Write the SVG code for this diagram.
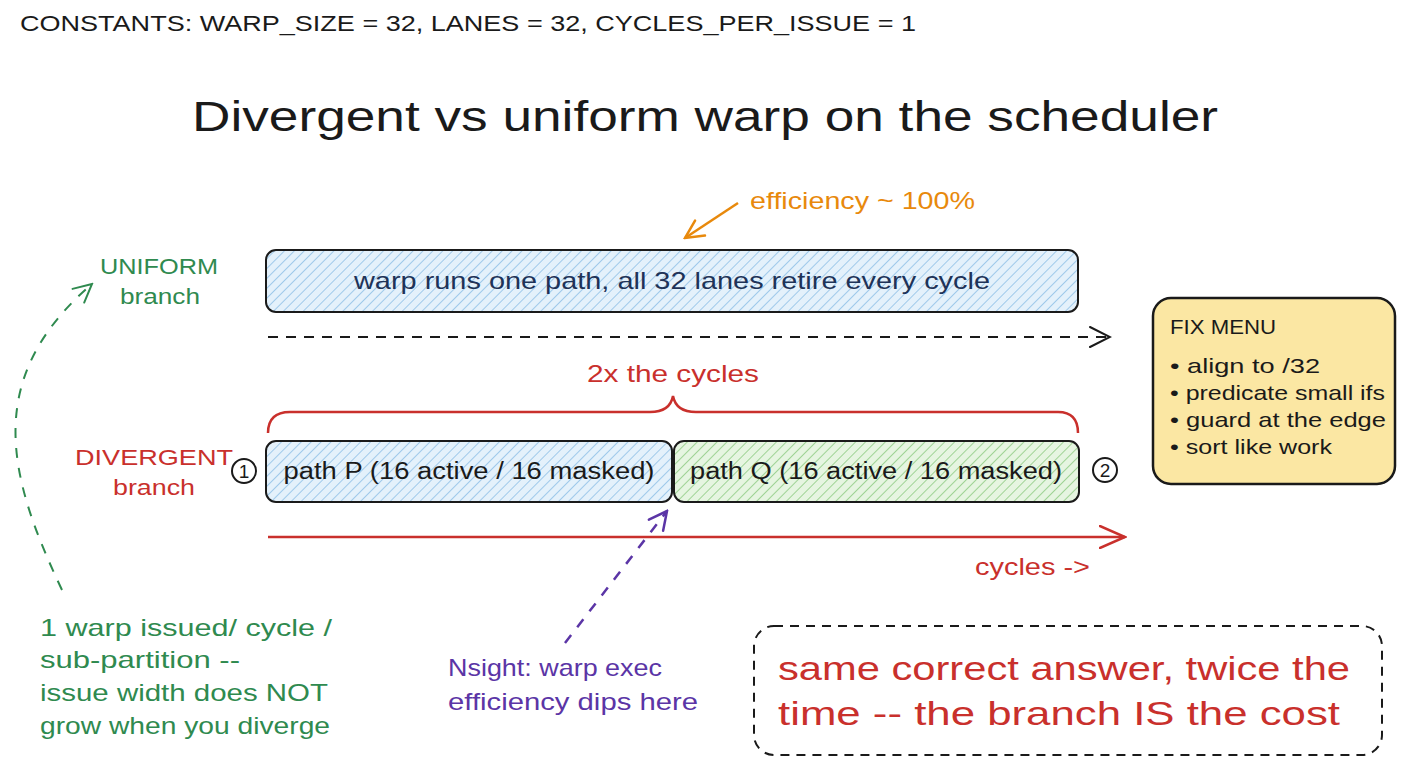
<svg xmlns="http://www.w3.org/2000/svg" width="1408" height="768" viewBox="0 0 1408 768">
<defs>
<pattern id="hatchBlue" patternUnits="userSpaceOnUse" width="7" height="7" patternTransform="rotate(45)">
<rect width="7" height="7" fill="#e4f1fb"/>
<line x1="0" y1="0" x2="0" y2="7" stroke="#9fc9ea" stroke-width="2"/>
</pattern>
<pattern id="hatchGreen" patternUnits="userSpaceOnUse" width="7" height="7" patternTransform="rotate(45)">
<rect width="7" height="7" fill="#e6f5e1"/>
<line x1="0" y1="0" x2="0" y2="7" stroke="#9fd395" stroke-width="2"/>
</pattern>
<marker id="arrBlack" markerWidth="24" markerHeight="24" refX="22" refY="12" orient="auto" markerUnits="userSpaceOnUse">
<path d="M2,2 L22,12 L2,22" fill="none" stroke="#1a1a1a" stroke-width="2" stroke-linecap="round"/>
</marker>
<marker id="arrRed" markerWidth="28" markerHeight="24" refX="26" refY="12" orient="auto" markerUnits="userSpaceOnUse">
<path d="M1,1 L26,12 L1,23" fill="none" stroke="#c9302c" stroke-width="2.5" stroke-linecap="round"/>
</marker>
<marker id="arrGreen" markerWidth="22" markerHeight="22" refX="20" refY="11" orient="auto" markerUnits="userSpaceOnUse">
<path d="M2,2 L20,11 L2,20" fill="none" stroke="#2f8a4f" stroke-width="2" stroke-linecap="round"/>
</marker>
<marker id="arrPurple" markerWidth="22" markerHeight="22" refX="20" refY="11" orient="auto" markerUnits="userSpaceOnUse">
<path d="M2,2 L20,11 L2,20" fill="none" stroke="#5b35a6" stroke-width="2.5" stroke-linecap="round"/>
</marker>
<marker id="arrOrange" markerWidth="22" markerHeight="22" refX="20" refY="11" orient="auto" markerUnits="userSpaceOnUse">
<path d="M2,2 L20,11 L2,20" fill="none" stroke="#e8890c" stroke-width="2.5" stroke-linecap="round"/>
</marker>
</defs>
<style>
text { font-family: "Liberation Sans", "DejaVu Sans", sans-serif; }
.box { stroke: #1a1a1a; stroke-width: 2; }
.green { fill: #2f8a4f; }
.red { fill: #c9302c; }
.purple { fill: #5b35a6; }
.dark { fill: #1a1a1a; }
</style>
<rect width="1408" height="768" fill="#ffffff"/>

<g id="header">
<text x="20" y="31" font-size="22" class="dark" textLength="896" lengthAdjust="spacingAndGlyphs">CONSTANTS: WARP_SIZE = 32, LANES = 32, CYCLES_PER_ISSUE = 1</text>
<text x="705" y="131" font-size="42" class="dark" text-anchor="middle" textLength="1026" lengthAdjust="spacingAndGlyphs">Divergent vs uniform warp on the scheduler</text>
</g>

<g id="connectors" fill="none">
<path d="M738,203 L685,238" stroke="#e8890c" stroke-width="2.5" marker-end="url(#arrOrange)"/>
<path d="M268,337 L1110,337" stroke="#1a1a1a" stroke-width="2" stroke-dasharray="10,8" marker-end="url(#arrBlack)"/>
<path d="M268,537 L1125,537" stroke="#c9302c" stroke-width="2.5" marker-end="url(#arrRed)"/>
<path d="M565,643 L667,511" stroke="#5b35a6" stroke-width="2.5" stroke-dasharray="10,10" marker-end="url(#arrPurple)"/>
<path d="M62,590 C10,480 -20,380 92,284" stroke="#2f8a4f" stroke-width="2" stroke-dasharray="10,10" marker-end="url(#arrGreen)"/>
<path d="M268,433 Q268,412 290,412 L650,412 Q670,412 673,396 Q676,412 696,412 L1058,412 Q1078,412 1078,433" stroke="#c9302c" stroke-width="2.5"/>
</g>

<g id="efficiency-label">
<text x="750" y="209" font-size="24" fill="#e8890c" textLength="225" lengthAdjust="spacingAndGlyphs">efficiency ~ 100%</text>
</g>

<g id="uniform-label">
<text x="159" y="274" font-size="22" class="green" text-anchor="middle" textLength="118" lengthAdjust="spacingAndGlyphs">UNIFORM</text>
<text x="160" y="304" font-size="22" class="green" text-anchor="middle" textLength="80" lengthAdjust="spacingAndGlyphs">branch</text>
</g>

<g id="uniform-box">
<rect x="266" y="250" width="812" height="62" rx="10" fill="url(#hatchBlue)" class="box"/>
<text x="672" y="289" font-size="24" fill="#1e3358" text-anchor="middle" textLength="636" lengthAdjust="spacingAndGlyphs">warp runs one path, all 32 lanes retire every cycle</text>
</g>

<g id="brace-label">
<text x="673" y="382" font-size="24" class="red" text-anchor="middle" textLength="172" lengthAdjust="spacingAndGlyphs">2x the cycles</text>
</g>

<g id="divergent-label">
<text x="154" y="465" font-size="22" class="red" text-anchor="middle" textLength="158" lengthAdjust="spacingAndGlyphs">DIVERGENT</text>
<text x="154" y="495" font-size="22" class="red" text-anchor="middle" textLength="82" lengthAdjust="spacingAndGlyphs">branch</text>
</g>

<g id="marker-1">
<circle cx="244" cy="471" r="12" fill="none" stroke="#1a1a1a" stroke-width="2"/>
<text x="244" y="478" font-size="19" class="dark" text-anchor="middle">1</text>
</g>

<g id="path-p">
<rect x="266" y="441" width="406" height="61" rx="10" fill="url(#hatchBlue)" class="box"/>
<text x="469" y="479" font-size="23" class="dark" text-anchor="middle" textLength="371" lengthAdjust="spacingAndGlyphs">path P (16 active / 16 masked)</text>
</g>

<g id="path-q">
<rect x="674" y="441" width="405" height="61" rx="10" fill="url(#hatchGreen)" class="box"/>
<text x="876" y="479" font-size="23" class="dark" text-anchor="middle" textLength="372" lengthAdjust="spacingAndGlyphs">path Q (16 active / 16 masked)</text>
</g>

<g id="marker-2">
<circle cx="1105" cy="470" r="12" fill="none" stroke="#1a1a1a" stroke-width="2"/>
<text x="1105" y="477" font-size="19" class="dark" text-anchor="middle">2</text>
</g>

<g id="cycles-label">
<text x="975" y="575" font-size="24" class="red" textLength="115" lengthAdjust="spacingAndGlyphs">cycles -&gt;</text>
</g>

<g id="fix-menu">
<rect x="1153" y="298" width="242" height="186" rx="18" fill="#fbe7a3" stroke="#1a1a1a" stroke-width="2.5"/>
<text x="1170" y="334" font-size="20" class="dark" textLength="106" lengthAdjust="spacingAndGlyphs">FIX MENU</text>
<text x="1170" y="373" font-size="21" class="dark" textLength="150" lengthAdjust="spacingAndGlyphs">• align to /32</text>
<text x="1170" y="400" font-size="21" class="dark" textLength="215" lengthAdjust="spacingAndGlyphs">• predicate small ifs</text>
<text x="1170" y="427" font-size="21" class="dark" textLength="216" lengthAdjust="spacingAndGlyphs">• guard at the edge</text>
<text x="1170" y="454" font-size="21" class="dark" textLength="162" lengthAdjust="spacingAndGlyphs">• sort like work</text>
</g>

<g id="issue-note">
<text x="40" y="636" font-size="24" class="green" textLength="292" lengthAdjust="spacingAndGlyphs">1 warp issued/ cycle /</text>
<text x="40" y="668" font-size="24" class="green" textLength="200" lengthAdjust="spacingAndGlyphs">sub-partition --</text>
<text x="40" y="701" font-size="24" class="green" textLength="288" lengthAdjust="spacingAndGlyphs">issue width does NOT</text>
<text x="40" y="734" font-size="24" class="green" textLength="290" lengthAdjust="spacingAndGlyphs">grow when you diverge</text>
</g>

<g id="nsight-note">
<text x="448" y="676" font-size="24" class="purple" textLength="214" lengthAdjust="spacingAndGlyphs">Nsight: warp exec</text>
<text x="448" y="710" font-size="24" class="purple" textLength="250" lengthAdjust="spacingAndGlyphs">efficiency dips here</text>
</g>

<g id="summary">
<rect x="754" y="626" width="628" height="129" rx="20" fill="none" stroke="#1a1a1a" stroke-width="2" stroke-dasharray="9,7"/>
<text x="778" y="680" font-size="33" class="red" textLength="572" lengthAdjust="spacingAndGlyphs">same correct answer, twice the</text>
<text x="778" y="725" font-size="33" class="red" textLength="562" lengthAdjust="spacingAndGlyphs">time -- the branch IS the cost</text>
</g>
</svg>
